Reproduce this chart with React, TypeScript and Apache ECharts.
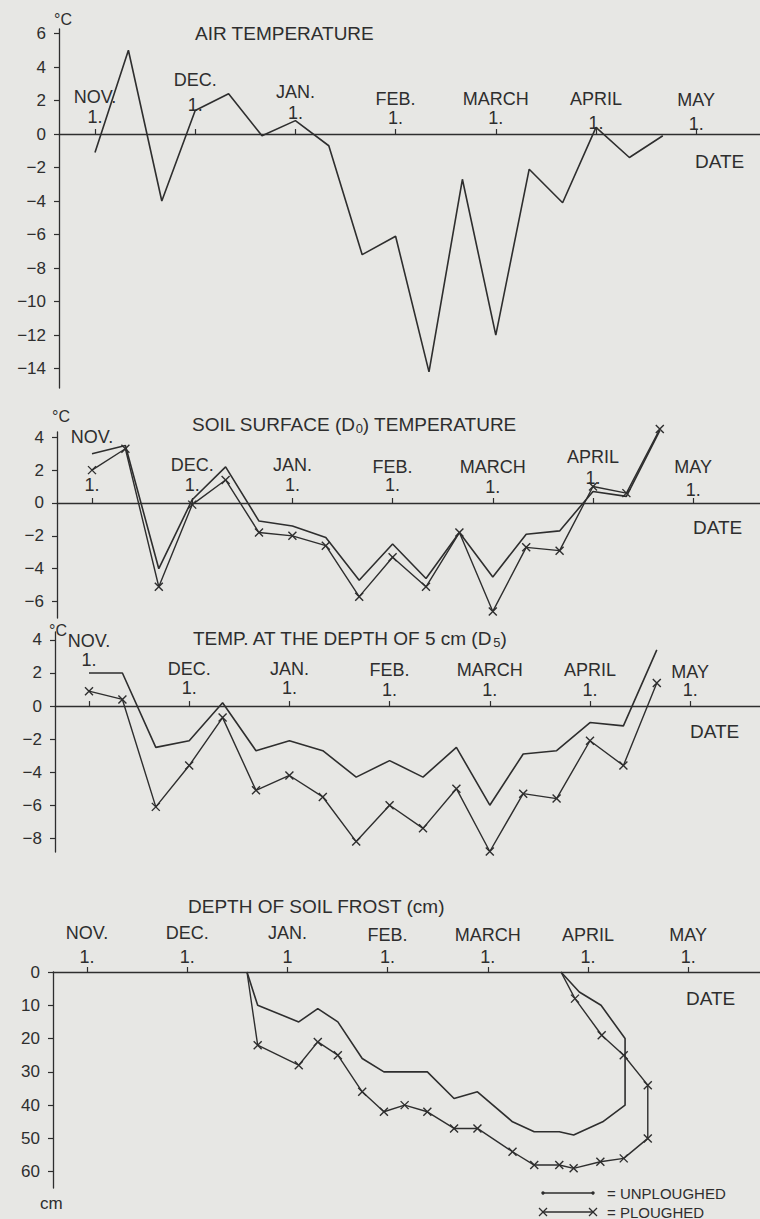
import { useEffect, useRef } from 'react';
import * as echarts from 'echarts';

// ---------- data ----------
const MONTHS = ['NOV.', 'DEC.', 'JAN.', 'FEB.', 'MARCH', 'APRIL', 'MAY'];
// x unit = ten-day period (dekad) counted from 1 November
const MONTH_START_DEKAD = [0, 3, 6, 9, 12, 15, 18];
const DAY_LABELS = ['1.', '1.', '1.', '1.', '1.', '1.', '1.'];
const DAY_LABELS_FROST = ['1.', '1.', '1', '1.', '1.', '1.', '1.'];

const AIR_TEMP = [-1.1, 5.0, -4.0, 1.4, 2.4, -0.1, 0.8, -0.7, -7.2, -6.1, -14.2, -2.7, -12.0, -2.1, -4.1, 0.4, -1.4, -0.1];

const SOIL_SURFACE_UNPLOUGHED = [3.0, 3.5, -4.0, 0.2, 2.2, -1.1, -1.4, -2.1, -4.7, -2.5, -4.6, -1.8, -4.5, -1.9, -1.7, 0.7, 0.4, 4.4];
const SOIL_SURFACE_PLOUGHED = [2.0, 3.3, -5.1, -0.1, 1.4, -1.8, -2.0, -2.6, -5.7, -3.3, -5.1, -1.8, -6.6, -2.7, -2.9, 1.0, 0.6, 4.5];

const D5_UNPLOUGHED = [2.0, 2.0, -2.5, -2.1, 0.2, -2.7, -2.1, -2.7, -4.3, -3.3, -4.3, -2.5, -6.0, -2.9, -2.7, -1.0, -1.2, 3.4];
const D5_PLOUGHED = [0.9, 0.4, -6.1, -3.6, -0.7, -5.1, -4.2, -5.5, -8.2, -6.0, -7.4, -5.0, -8.8, -5.3, -5.6, -2.1, -3.6, 1.4];

const FROST_UNPLOUGHED_DEKAD = [4.79, 5.11, 6.34, 6.91, 7.51, 8.24, 8.89, 10.19, 10.99, 11.69, 12.74, 13.39, 14.14, 14.57, 15.44, 16.11, 16.11, 15.39, 14.74, 14.19];
const FROST_UNPLOUGHED_DEPTH = [0, 10, 15, 11, 15, 26, 30, 30, 38, 36, 45, 48, 48, 49, 45, 40, 20, 10, 6, 0];
const FROST_PLOUGHED_DEKAD = [4.79, 5.11, 6.34, 6.91, 7.51, 8.24, 8.89, 9.51, 10.19, 10.99, 11.69, 12.74, 13.39, 14.14, 14.57, 15.37, 16.07, 16.79, 16.79, 16.07, 15.41, 14.61, 14.19];
const FROST_PLOUGHED_DEPTH = [0, 22, 28, 21, 25, 36, 42, 40, 42, 47, 47, 54, 58, 58, 59, 57, 56, 50, 34, 25, 19, 8, 0];

const AIR_TICKS = [-14, -12, -10, -8, -6, -4, -2, 0, 2, 4, 6];
const SOIL_TICKS = [-6, -4, -2, 0, 2, 4];
const D5_TICKS = [-8, -6, -4, -2, 0, 2, 4];
const FROST_TICKS = [0, 10, 20, 30, 40, 50, 60];

// ---------- style ----------
const FONT = '"Liberation Sans", Arial, Helvetica, sans-serif';
const INK = '#2e2e2e';
const BG = '#e7e7e4';
const PX_PER_DEKAD = 33.4;
const X_SYMBOL = 'path://M0,0L10,10M10,0L0,10';
const MONTH_FONT = 18;

// month label placement per panel: [centre of "1." above line, gap to month name]
const LABELS_AIR = [[17, 20], [29, 25], [21, 21], [16, 19], [16, 19], [11, 24], [10, 24]];
const LABELS_SOIL = [[18, 48], [18, 20], [18, 20], [18, 18], [16, 20], [25, 21], [13, 23]];
const LABELS_D5 = [[46, 19], [18, 19], [18, 19], [16, 20], [16, 20], [16, 20], [16, 18]];
const LABELS_FROST = [[15, 24], [15, 24], [15, 24], [15, 22], [15, 22], [15, 22], [15, 22]];

const PANELS = [
  { left: 59, top: 29, height: 359, nov1: 95, yMin: -15.16, yMax: 6.27, inverse: false },
  { left: 57, top: 432, height: 186, nov1: 92, yMin: -7.0, yMax: 4.32, inverse: false },
  { left: 55, top: 632, height: 220, nov1: 89, yMin: -8.83, yMax: 4.48, inverse: false },
  { left: 53, top: 972, height: 216, nov1: 87, yMin: 0, yMax: 64.9, inverse: true },
];

function monthAxis(gridIndex: number, labelCfg: number[][], days: string[]) {
  const p = PANELS[gridIndex];
  const xMin = -(p.nov1 - p.left) / PX_PER_DEKAD;
  const xMax = xMin + (760 - p.left) / PX_PER_DEKAD;
  // distance of the zero line below the grid's top edge
  const zeroDrop = p.inverse ? 0 : (p.height * p.yMax) / (p.yMax - p.yMin);
  const rich: any = { d: { fontSize: MONTH_FONT, lineHeight: 16, fontFamily: FONT, color: INK } };
  labelCfg.forEach(([off, nd]) => {
    const sp = Math.max(0, off - 10);
    const h = Math.max(2, 2 * nd - 16);
    rich['n' + h] = { fontSize: MONTH_FONT, lineHeight: h, fontFamily: FONT, color: INK };
    if (sp > 0) rich['s' + sp] = { fontSize: 1, lineHeight: sp };
  });
  return {
    type: 'value',
    gridIndex,
    min: xMin,
    max: xMax,
    position: 'top',
    offset: -zeroDrop,
    axisLine: { show: true, onZero: false, lineStyle: { color: INK, width: 1.3 } },
    axisTick: { show: true, length: 5, customValues: MONTH_START_DEKAD, lineStyle: { color: INK, width: 1.2 } },
    axisLabel: {
      show: true,
      margin: 2,
      customValues: MONTH_START_DEKAD,
      rich,
      formatter: (v: number) => {
        const k = MONTH_START_DEKAD.findIndex((m) => Math.abs(m - v) < 1e-6);
        if (k < 0) return '';
        const [off, nd] = labelCfg[k];
        const sp = Math.max(0, off - 10);
        const h = Math.max(2, 2 * nd - 16);
        return `{n${h}|${MONTHS[k]}}\n{d|${days[k]}}` + (sp > 0 ? `\n{s${sp}| }` : '');
      },
    },
    splitLine: { show: false },
  };
}

function valueAxis(gridIndex: number, ticks: number[]) {
  const p = PANELS[gridIndex];
  return {
    type: 'value',
    gridIndex,
    min: p.yMin,
    max: p.yMax,
    inverse: p.inverse,
    position: 'left',
    axisLine: { show: true, onZero: false, lineStyle: { color: INK, width: 1.3 } },
    axisTick: { show: true, length: 5, customValues: ticks, lineStyle: { color: INK, width: 1.2 } },
    axisLabel: {
      show: true,
      customValues: ticks,
      margin: 13,
      fontSize: 17,
      fontFamily: FONT,
      color: INK,
      formatter: (v: number) => String(v).replace('-', '\u2212'),
    },
    splitLine: { show: false },
  };
}

const plainLine = (name: string, idx: number, data: any[]) => ({
  type: 'line',
  name,
  xAxisIndex: idx,
  yAxisIndex: idx,
  data,
  symbol: 'none',
  clip: false,
  silent: true,
  lineStyle: { color: INK, width: 1.6 },
});

const crossLine = (name: string, idx: number, data: any[]) => ({
  type: 'line',
  name,
  xAxisIndex: idx,
  yAxisIndex: idx,
  data,
  symbol: X_SYMBOL,
  symbolSize: 8,
  showSymbol: true,
  showAllSymbol: true,
  clip: false,
  silent: true,
  lineStyle: { color: INK, width: 1.4 },
  itemStyle: { color: 'transparent', borderColor: INK, borderWidth: 1.4 },
});

const txt = (text: string, left: number, top: number, size = 17, rich?: any) => ({
  text,
  left,
  top,
  padding: 0,
  textStyle: {
    fontSize: size,
    fontWeight: 'normal',
    fontFamily: FONT,
    color: INK,
    lineHeight: 22,
    ...(rich ? { rich } : {}),
  },
});

const SUB_RICH = {
  sub: { fontSize: 13, lineHeight: 22, verticalAlign: 'bottom', fontFamily: FONT, color: INK },
};

export default function App() {
  const ref = useRef<HTMLDivElement>(null);

  useEffect(() => {
    if (!ref.current) return;
    const chart = echarts.init(ref.current, undefined, { renderer: 'svg' });
    const byDekad = (arr: number[]) => arr.map((v, i) => [i, v]);
    const frost = (xs: number[], ys: number[], marked: boolean) =>
      xs.map((x, k) => (marked && ys[k] !== 0 ? [x, ys[k]] : { value: [x, ys[k]], symbol: 'none' }));

    chart.setOption({
      animation: false,
      backgroundColor: BG,
      grid: PANELS.map((p) => ({
        left: p.left,
        top: p.top,
        height: p.height,
        right: 0,
        containLabel: false,
        outerBoundsMode: 'none',
      })),
      xAxis: [
        monthAxis(0, LABELS_AIR, DAY_LABELS),
        monthAxis(1, LABELS_SOIL, DAY_LABELS),
        monthAxis(2, LABELS_D5, DAY_LABELS),
        monthAxis(3, LABELS_FROST, DAY_LABELS_FROST),
      ],
      yAxis: [
        valueAxis(0, AIR_TICKS),
        valueAxis(1, SOIL_TICKS),
        valueAxis(2, D5_TICKS),
        valueAxis(3, FROST_TICKS),
      ],
      title: [
        txt('AIR TEMPERATURE', 195, 22, 19),
        txt('SOIL SURFACE (D{sub|0}) TEMPERATURE', 192, 413, 19, SUB_RICH),
        txt('TEMP. AT THE DEPTH OF 5 cm (D{sub|5})', 193, 627, 19, SUB_RICH),
        txt('DEPTH OF SOIL FROST (cm)', 188, 895, 19),
        txt('°C', 54, 8, 16),
        txt('°C', 52, 405, 16),
        txt('°C', 49, 619, 16),
        txt('cm', 40, 1192, 17),
        txt('DATE', 695, 150, 19),
        txt('DATE', 693, 516, 19),
        txt('DATE', 690, 720, 19),
        txt('DATE', 686, 987, 19),
      ],
      series: [
        plainLine('AIR TEMPERATURE', 0, byDekad(AIR_TEMP)),
        plainLine('UNPLOUGHED', 1, byDekad(SOIL_SURFACE_UNPLOUGHED)),
        crossLine('PLOUGHED', 1, byDekad(SOIL_SURFACE_PLOUGHED)),
        plainLine('UNPLOUGHED', 2, byDekad(D5_UNPLOUGHED)),
        crossLine('PLOUGHED', 2, byDekad(D5_PLOUGHED)),
        plainLine('UNPLOUGHED', 3, frost(FROST_UNPLOUGHED_DEKAD, FROST_UNPLOUGHED_DEPTH, false)),
        crossLine('PLOUGHED', 3, frost(FROST_PLOUGHED_DEKAD, FROST_PLOUGHED_DEPTH, true)),
      ],
      graphic: [
        { type: 'line', shape: { x1: 543, y1: 1193, x2: 593, y2: 1193 }, style: { stroke: INK, lineWidth: 1.3 } },
        { type: 'circle', shape: { cx: 543, cy: 1193, r: 1.7 }, style: { fill: INK } },
        { type: 'circle', shape: { cx: 593, cy: 1193, r: 1.7 }, style: { fill: INK } },
        {
          type: 'text', x: 607, y: 1193,
          style: { text: '= UNPLOUGHED', fill: INK, fontSize: 15, fontFamily: FONT, verticalAlign: 'middle', textVerticalAlign: 'middle' },
        },
        { type: 'line', shape: { x1: 543, y1: 1212, x2: 593, y2: 1212 }, style: { stroke: INK, lineWidth: 1.3 } },
        { type: 'polyline', shape: { points: [[539, 1208], [547, 1216]] }, style: { stroke: INK, lineWidth: 1.3, fill: 'none' } },
        { type: 'polyline', shape: { points: [[547, 1208], [539, 1216]] }, style: { stroke: INK, lineWidth: 1.3, fill: 'none' } },
        { type: 'polyline', shape: { points: [[589, 1208], [597, 1216]] }, style: { stroke: INK, lineWidth: 1.3, fill: 'none' } },
        { type: 'polyline', shape: { points: [[597, 1208], [589, 1216]] }, style: { stroke: INK, lineWidth: 1.3, fill: 'none' } },
        {
          type: 'text', x: 607, y: 1212,
          style: { text: '= PLOUGHED', fill: INK, fontSize: 15, fontFamily: FONT, verticalAlign: 'middle', textVerticalAlign: 'middle' },
        },
      ],
    });
    return () => chart.dispose();
  }, []);

  return (
    <div
      ref={ref}
      style={{ position: 'absolute', left: 0, top: 0, width: 760, height: 1219 }}
    />
  );
}
